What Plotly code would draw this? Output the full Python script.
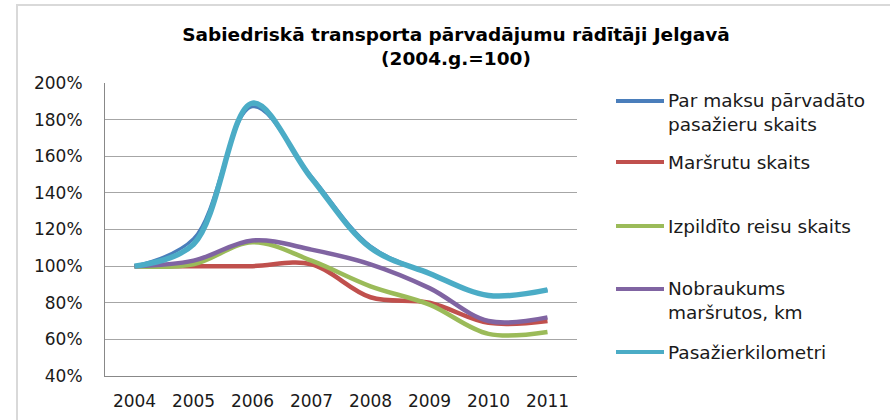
import plotly.graph_objects as go

years = ["2004", "2005", "2006", "2007", "2008", "2009", "2010", "2011"]

par_maksu = [100, 115, 187, 149, 111, 96, 84, 87]
marsrutu = [100, 100, 100, 101, 83, 80, 69, 70]
izpildito = [100, 101, 113, 103, 89, 79, 63, 64]
nobraukums = [100, 103, 114, 109, 101, 88, 70, 72]
pasazierkm = [100, 112, 189, 148, 110, 96, 84, 87]

names = [
    "Par maksu pārvadāto<br>pasažieru skaits",
    "Maršrutu skaits",
    "Izpildīto reisu skaits",
    "Nobraukums<br>maršrutos, km",
    "Pasažierkilometri",
]
series = [par_maksu, marsrutu, izpildito, nobraukums, pasazierkm]
colors = ["#4A7EBB", "#C0504D", "#9BBB59", "#8064A2", "#4BACC6"]
widths = [3, 4.5, 4.5, 4.5, 5.5]

fig = go.Figure()
for nm, vals, c, w in zip(names, series, colors, widths):
    fig.add_trace(go.Scatter(
        x=years, y=vals, name=nm.replace("<br>", " "), mode="lines",
        line=dict(color=c, width=w, shape="spline", smoothing=1.0),
        showlegend=False,
    ))

L, R, T, B = 105, 577, 83, 376
W, H = 890, 420
pw, ph = R - L, B - T

def px(x):
    return (x - L) / pw

def py(y):
    return (B - y) / ph

# legend layout (pixel rows for the line sample and the text block centre)
leg_line_y = [101, 162, 226, 289, 352]
leg_text_y = [112.5, 162, 226, 300.5, 352]

shapes = [dict(
    type="rect", xref="paper", yref="paper",
    x0=px(17), x1=px(900), y0=py(430), y1=py(5),
    line=dict(color="#D9D9D9", width=2), fillcolor="rgba(0,0,0,0)", layer="below",
)]
annotations = []
for nm, c, ly, ty in zip(names, colors, leg_line_y, leg_text_y):
    shapes.append(dict(
        type="line", xref="paper", yref="paper",
        x0=px(616), x1=px(664), y0=py(ly), y1=py(ly),
        line=dict(color=c, width=4),
    ))
    annotations.append(dict(
        text=nm, xref="paper", yref="paper", x=px(666), y=py(ty),
        xanchor="left", yanchor="middle", align="left", showarrow=False,
        font=dict(family="DejaVu Sans, sans-serif", size=18.5, color="#1a1a1a"),
    ))

fig.update_layout(
    width=W, height=H,
    margin=dict(l=L, r=W - R, t=T, b=H - B, autoexpand=False),
    paper_bgcolor="white", plot_bgcolor="white",
    title=dict(
        text="Sabiedriskā transporta pārvadājumu rādītāji Jelgavā<br>(2004.g.=100)",
        xref="paper", x=px(456), xanchor="center",
        yref="container", y=1 - 41 / H, yanchor="middle",
        font=dict(family="DejaVu Sans, sans-serif", size=18.5, color="#000000", weight="bold"),
    ),
    showlegend=False,
    xaxis=dict(
        type="category", range=[-0.5, 7.5],
        showgrid=False, showline=True, linecolor="#888888", linewidth=1,
        tickfont=dict(family="DejaVu Sans, sans-serif", size=17, color="#1a1a1a"),
        ticks="outside", ticklen=10, tickcolor="rgba(0,0,0,0)",
    ),
    yaxis=dict(
        range=[40, 200], dtick=20, ticksuffix="%",
        showgrid=True, gridcolor="#A6A6A6", gridwidth=1,
        showline=True, linecolor="#888888", linewidth=1,
        zeroline=False,
        tickfont=dict(family="DejaVu Sans, sans-serif", size=17, color="#1a1a1a"),
        ticks="outside", ticklen=18, tickcolor="rgba(0,0,0,0)",
    ),
    shapes=shapes,
    annotations=annotations,
)

fig.write_html("out.html", config={"displayModeBar": False},
               post_script="document.body.style.margin='0';")
